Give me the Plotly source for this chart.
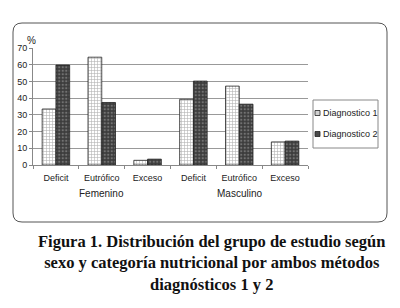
import plotly.graph_objects as go

sexo = ["Femenino"] * 3 + ["Masculino"] * 3
categoria = ["Deficit", "Eutrófico", "Exceso", "Deficit", "Eutrófico", "Exceso"]
diag1 = [33.5, 64.5, 2.8, 39.3, 47.2, 13.8]
diag2 = [59.8, 37.4, 3.5, 50.2, 36.4, 14.3]
series_names = ["Diagnostico 1", "Diagnostico 2"]
y_ticks = [0, 10, 20, 30, 40, 50, 60, 70]

x_keys = [f"{s}|{c}" for s, c in zip(sexo, categoria)]

W, H = 400, 308
L, R, T, B = 33, 92, 48, 143
pw, ph = W - L - R, H - T - B

def px(x):
    return (x - L) / pw

def py(y):
    return (H - B - y) / ph

fig = go.Figure()
fig.add_trace(go.Bar(
    x=x_keys, y=diag1, name=series_names[0], showlegend=False,
    marker=dict(color="white", line=dict(color="#222", width=0.8),
                pattern=dict(shape="+", fgcolor="#666", size=3, solidity=0.35)),
))
fig.add_trace(go.Bar(
    x=x_keys, y=diag2, name=series_names[1], showlegend=False,
    marker=dict(color="#3c3c3c", line=dict(color="#222", width=0.8),
                pattern=dict(shape=".", fgcolor="#a8a8a8", size=3.5, solidity=0.35)),
))

# group labels (sexo) under the middle category of each group
for s in ["Femenino", "Masculino"]:
    fig.add_annotation(text=s, x=f"{s}|Eutrófico", xref="x", y=py(193), yref="paper",
                       showarrow=False, xanchor="center", yanchor="middle",
                       font=dict(family="Liberation Sans", size=10, color="#222"))

# rounded frame
x0, x1 = px(13), px(387)
y0, y1 = py(222), py(23)
rx, ry = 9 / pw, 9 / ph
path = (f"M {x0+rx},{y1} L {x1-rx},{y1} Q {x1},{y1} {x1},{y1-ry} "
        f"L {x1},{y0+ry} Q {x1},{y0} {x1-rx},{y0} L {x0+rx},{y0} "
        f"Q {x0},{y0} {x0},{y0+ry} L {x0},{y1-ry} Q {x0},{y1} {x0+rx},{y1} Z")
fig.add_shape(type="path", path=path, xref="paper", yref="paper",
              line=dict(color="#555", width=1), layer="below")

# legend (manual, compact like the original)
fig.add_shape(type="rect", xref="paper", yref="paper",
              x0=px(313), x1=px(378), y0=py(148), y1=py(100),
              line=dict(color="#888", width=1), fillcolor="white")
legend_fill = ["#d0d0d0", "#4a4a4a"]
legend_y = [113, 134]
for name, fill, yy in zip(series_names, legend_fill, legend_y):
    fig.add_shape(type="rect", xref="paper", yref="paper",
                  x0=px(315), x1=px(320), y0=py(yy + 2.5), y1=py(yy - 2.5),
                  line=dict(color="#222", width=0.8), fillcolor=fill)
    fig.add_annotation(text=name, x=px(321), y=py(yy), xref="paper", yref="paper",
                       xanchor="left", yanchor="middle", showarrow=False,
                       font=dict(family="Liberation Sans", size=9, color="#222"))

fig.add_annotation(text="%", x=px(25), y=py(33), xref="paper", yref="paper",
                   showarrow=False, font=dict(family="Liberation Sans", size=10, color="#222"))

fig.add_annotation(
    text="<b>Figura 1. Distribución del grupo de estudio según<br>"
         "sexo y categoría nutricional por ambos métodos<br>"
         "diagnósticos 1 y 2</b>",
    x=px(211), y=py(263), xref="paper", yref="paper", showarrow=False,
    xanchor="center", yanchor="middle",
    font=dict(family="Liberation Serif", size=16.5, color="#111"),
)

fig.update_layout(
    width=W, height=H,
    margin=dict(l=L, r=R, t=T, b=B, pad=0),
    paper_bgcolor="white", plot_bgcolor="white",
    barmode="group", bargap=0.4, bargroupgap=0,
    font=dict(family="Liberation Sans", size=9, color="#222"),
    showlegend=False,
    xaxis=dict(type="category", tickmode="array", tickvals=x_keys, ticktext=categoria,
               tickson="boundaries", showline=True, linecolor="#888",
               ticks="outside", ticklen=3, tickcolor="#888",
               ticklabelstandoff=4, tickfont=dict(size=9)),
    yaxis=dict(range=[0, 70], tickvals=y_ticks, showgrid=True, gridcolor="#999",
               gridwidth=1, showline=True, linecolor="#888", ticks="outside",
               ticklen=3, tickcolor="#888", tickfont=dict(size=9)),
)

fig.write_html("out.html", config={"displayModeBar": False},
               post_script="document.body.style.margin='0';")
